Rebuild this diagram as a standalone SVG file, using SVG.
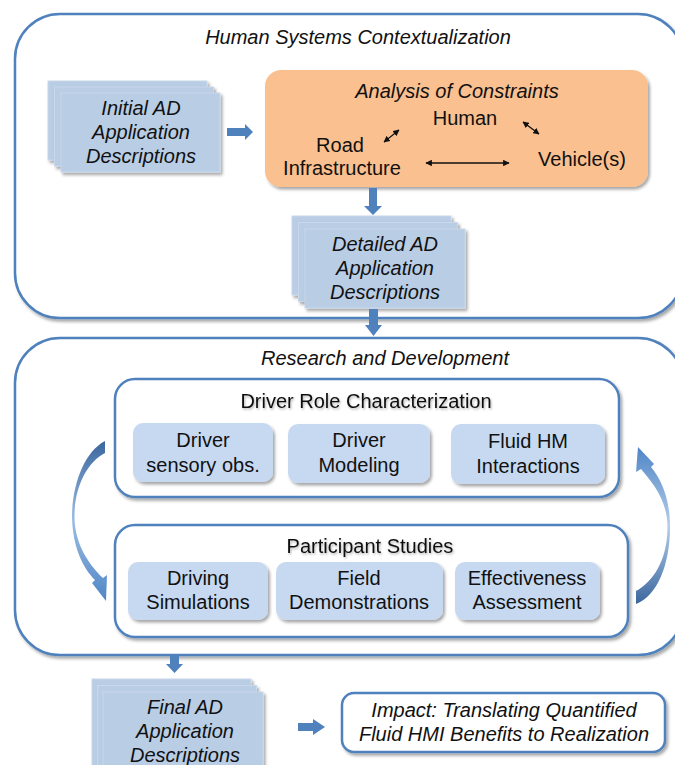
<svg xmlns="http://www.w3.org/2000/svg" width="675" height="765" viewBox="0 0 675 765">
<defs>
<style>
.cont{fill:#ffffff;stroke:#4F81BD;stroke-width:2.5}
.sheet{fill:#B9CDE5;stroke:#C9D8EC;stroke-width:1}
.sub{fill:#C6D9F1;stroke:none}
.orange{fill:#FAC08F}
.t{font-family:"Liberation Sans",Arial,sans-serif;font-size:20px;fill:#111111;text-anchor:middle}
.i{font-style:italic}
.blk{fill:#4F81BD}
.dbl{stroke:#111;stroke-width:1.3;fill:none;marker-start:url(#ah);marker-end:url(#ah)}
</style>
<filter id="sh" x="-10%" y="-10%" width="125%" height="130%">
<feDropShadow dx="2" dy="2.5" stdDeviation="1.6" flood-color="#000" flood-opacity="0.35"/>
</filter>
<filter id="tsh" x="-5%" y="-20%" width="110%" height="150%">
<feDropShadow dx="1" dy="1.5" stdDeviation="1" flood-color="#000" flood-opacity="0.3"/>
</filter>
<marker id="ah" viewBox="0 0 10 10" refX="9" refY="5" markerWidth="5" markerHeight="5" orient="auto-start-reverse" markerUnits="strokeWidth">
<path d="M0,0 L10,5 L0,10 z" fill="#111"/>
</marker>
<linearGradient id="gl" x1="0" y1="0" x2="0" y2="1">
<stop offset="0" stop-color="#3B679E"/>
<stop offset="0.5" stop-color="#9DBCE2"/>
<stop offset="1" stop-color="#4F86C6"/>
</linearGradient>
<linearGradient id="gr" x1="0" y1="1" x2="0" y2="0">
<stop offset="0" stop-color="#3B679E"/>
<stop offset="0.5" stop-color="#B5CDEA"/>
<stop offset="1" stop-color="#4F86C6"/>
</linearGradient>
</defs>

<g id="hsc-container">
<rect class="cont" x="15" y="14" width="668" height="304" rx="45" filter="url(#sh)"/>
<text class="t i" x="358" y="44">Human Systems Contextualization</text>
</g>

<g id="rd-container">
<rect class="cont" x="15" y="338" width="668" height="317" rx="45" filter="url(#sh)"/>
<text class="t i" x="385" y="365">Research and Development</text>
</g>

<g id="initial-ad">
<rect class="sheet" x="48" y="81" width="159" height="79" filter="url(#sh)"/>
<rect class="sheet" x="54.5" y="87" width="159" height="79" filter="url(#sh)"/>
<rect class="sheet" x="61" y="93" width="159" height="79" filter="url(#sh)"/>
<text class="t i" x="141" y="115">Initial AD</text>
<text class="t i" x="141" y="139">Application</text>
<text class="t i" x="141" y="163">Descriptions</text>
</g>

<g id="analysis">
<rect class="orange" x="265" y="70" width="383" height="117" rx="16" filter="url(#sh)"/>
<text class="t i" x="457" y="98">Analysis of Constraints</text>
<text class="t" x="465" y="125">Human</text>
<text class="t" x="340" y="152">Road</text>
<text class="t" x="342" y="175">Infrastructure</text>
<text class="t" x="582" y="166">Vehicle(s)</text>
<line class="dbl" x1="384" y1="142" x2="399" y2="130"/>
<line class="dbl" x1="523" y1="122" x2="539" y2="134"/>
<line class="dbl" x1="426" y1="163" x2="509" y2="163"/>
</g>

<g id="detailed-ad">
<rect class="sheet" x="292" y="216" width="159" height="79" filter="url(#sh)"/>
<rect class="sheet" x="298.5" y="222.5" width="159" height="79" filter="url(#sh)"/>
<rect class="sheet" x="305" y="229" width="160" height="79" filter="url(#sh)"/>
<text class="t i" x="385" y="251">Detailed AD</text>
<text class="t i" x="385" y="275">Application</text>
<text class="t i" x="385" y="299">Descriptions</text>
</g>

<g id="driver-role">
<rect class="cont" x="115" y="379" width="504" height="118" rx="20" filter="url(#sh)"/>
<text class="t" x="366" y="408" filter="url(#tsh)">Driver Role Characterization</text>
</g>
<g id="driver-sensory">
<rect class="sub" x="133" y="423" width="140" height="59" rx="10" filter="url(#sh)"/>
<text class="t" x="203" y="447">Driver</text>
<text class="t" x="203" y="472">sensory obs.</text>
</g>
<g id="driver-modeling">
<rect class="sub" x="288" y="424" width="142" height="59" rx="10" filter="url(#sh)"/>
<text class="t" x="359" y="447">Driver</text>
<text class="t" x="359" y="472">Modeling</text>
</g>
<g id="fluid-hm">
<rect class="sub" x="451" y="424" width="154" height="60" rx="10" filter="url(#sh)"/>
<text class="t" x="528" y="448">Fluid HM</text>
<text class="t" x="528" y="473">Interactions</text>
</g>

<g id="participant">
<rect class="cont" x="115" y="525" width="513" height="112" rx="20" filter="url(#sh)"/>
<text class="t" x="370" y="553" filter="url(#tsh)">Participant Studies</text>
</g>
<g id="driving-sim">
<rect class="sub" x="128" y="562" width="140" height="58" rx="10" filter="url(#sh)"/>
<text class="t" x="198" y="585">Driving</text>
<text class="t" x="198" y="609">Simulations</text>
</g>
<g id="field-demo">
<rect class="sub" x="276" y="562" width="167" height="58" rx="10" filter="url(#sh)"/>
<text class="t" x="359" y="585">Field</text>
<text class="t" x="359" y="609">Demonstrations</text>
</g>
<g id="effectiveness">
<rect class="sub" x="455" y="562" width="145" height="58" rx="10" filter="url(#sh)"/>
<text class="t" x="527" y="585">Effectiveness</text>
<text class="t" x="527" y="609">Assessment</text>
</g>

<g id="final-ad">
<rect class="sheet" x="92" y="679" width="159" height="90" filter="url(#sh)"/>
<rect class="sheet" x="97.5" y="685.5" width="159" height="90" filter="url(#sh)"/>
<rect class="sheet" x="103" y="692" width="160" height="90" filter="url(#sh)"/>
<text class="t i" x="185" y="714">Final AD</text>
<text class="t i" x="185" y="738">Application</text>
<text class="t i" x="185" y="762">Descriptions</text>
</g>

<g id="impact">
<rect class="cont" x="342" y="693" width="323" height="59" rx="12" filter="url(#sh)"/>
<text class="t i" x="504" y="717">Impact: Translating Quantified</text>
<text class="t i" x="504" y="741">Fluid HMI Benefits to Realization</text>
</g>

<g id="connectors">
<path class="blk" d="M227,128 L245,128 L245,124 L253,132 L245,140 L245,136 L227,136 Z"/>
<path class="blk" d="M369,188 L377,188 L377,206 L382,206 L373,215 L364,206 L369,206 Z"/>
<path class="blk" d="M369,309 L378,309 L378,325 L382,325 L373.5,336 L365,325 L369,325 Z"/>
<path class="blk" d="M170,656 L179,656 L179,664 L183,664 L174.5,673 L166,664 L170,664 Z"/>
<path class="blk" d="M298,723 L313,723 L313,719 L325,727 L313,735 L313,731 L298,731 Z"/>
<path fill="url(#gl)" d="M105,441 C84,452 72,485 72,518 C73,548 83,568 95,580 L92,583 L106,601 L107,575 L103,578 C90,566 75,545 74.5,518 C74,488 87,462 105,453 Z"/>
<path fill="url(#gr)" d="M636,604 C657,596 670,565 670,527 C670,498 661,479 651,467 L654,464 L638,447 L636,472 L641,469 C652,482 667.5,500 667.5,527 C667.5,560 653,582 636,591 Z"/>
</g>
</svg>
